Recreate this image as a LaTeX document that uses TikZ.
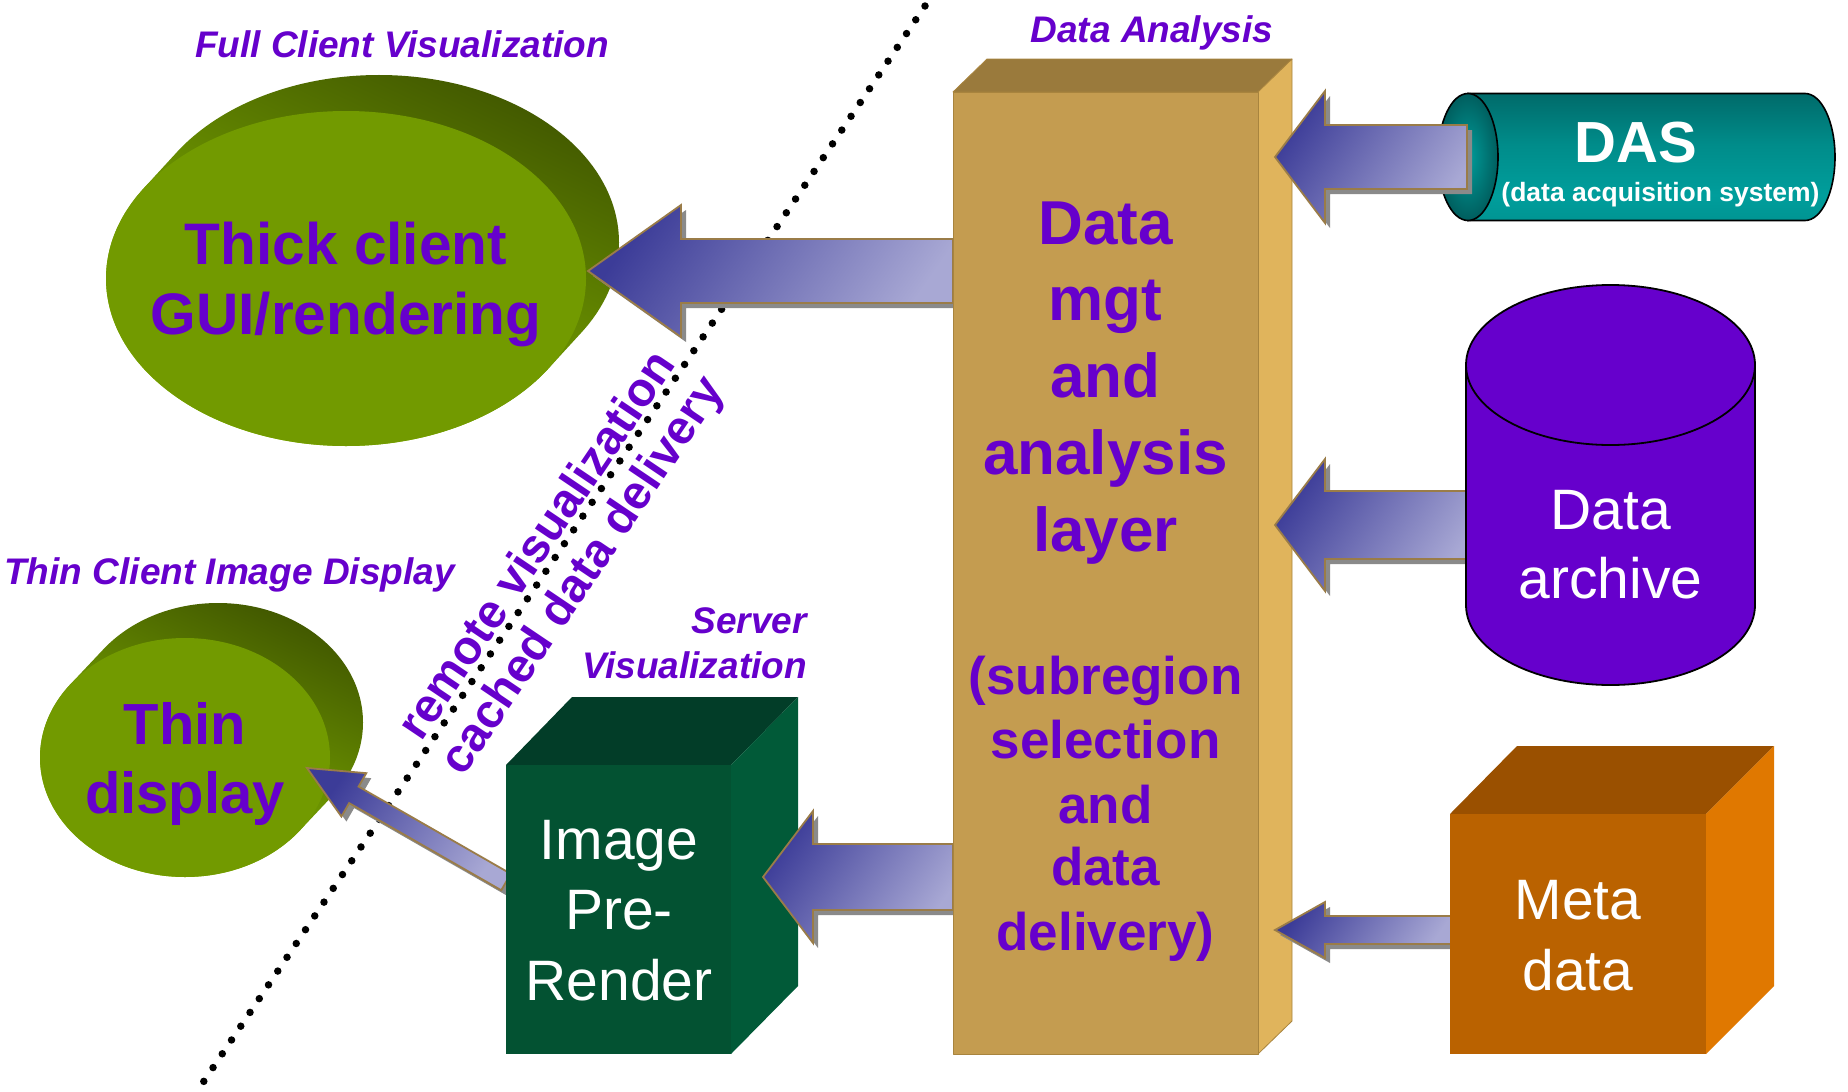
\documentclass[tikz,border=0pt]{standalone}
\usepackage{fontspec}
\setmainfont{Liberation Sans}
\usetikzlibrary{calc}

\definecolor{vio}{HTML}{6600CC}
\definecolor{olivefront}{HTML}{729A00}
\definecolor{olivedk}{HTML}{435A00}
\definecolor{olivemid}{HTML}{5A7800}
\definecolor{olivelt}{HTML}{8EC400}
\definecolor{tanfront}{HTML}{C49C50}
\definecolor{tantop}{HTML}{9A7A3C}
\definecolor{tanside}{HTML}{E0B45C}
\definecolor{tanedge}{HTML}{A8843E}
\definecolor{grfront}{HTML}{035232}
\definecolor{grtop}{HTML}{023D28}
\definecolor{grside}{HTML}{015A38}
\definecolor{orfront}{HTML}{BA6200}
\definecolor{ortop}{HTML}{9A5000}
\definecolor{orside}{HTML}{E07800}
\definecolor{tealA}{HTML}{004444}
\definecolor{tealB}{HTML}{008886}
\definecolor{tealC}{HTML}{009E9C}
\definecolor{tealD}{HTML}{008C8A}
\definecolor{tealE}{HTML}{005A5A}
\definecolor{tealF}{HTML}{004C4C}
\definecolor{tealcapin}{HTML}{009C9A}
\definecolor{tealcapout}{HTML}{005E5E}
\definecolor{arrdark}{HTML}{3C3C98}
\definecolor{arrlight}{HTML}{A8A8D4}
\definecolor{arredge}{HTML}{9A7C48}
\definecolor{arrshadow}{HTML}{8A8A8A}

% body of the horizontal DAS cylinder (0bp = bottom edge)
\pgfdeclareverticalshading{dasbody}{100bp}{%
  color(0bp)=(tealA); color(12bp)=(tealB); color(35bp)=(tealC);
  color(55bp)=(tealD); color(85bp)=(tealE); color(100bp)=(tealF)}

\tikzset{
  ptxt/.style={text=vio, font=\bfseries\fontsize{#1}{#1}\selectfont, inner sep=0pt, anchor=base},
  wtxt/.style={text=white, font=\fontsize{#1}{#1}\selectfont, inner sep=0pt, anchor=base},
  wbtxt/.style={text=white, font=\bfseries\fontsize{#1}{#1}\selectfont, inner sep=0pt, anchor=base},
  caption/.style={text=vio, font=\bfseries\itshape\fontsize{37}{37}\selectfont, inner sep=0pt, anchor=base},
  arrowbody/.style={draw=arredge, line width=1.8pt, line join=miter,
    top color=arrdark, bottom color=arrlight, shading angle=55},
  faceedge/.style={line width=0.8pt, line join=round},
}

% block arrow: tip, tail, head length, head half width, shaft half width
\newcommand\blockarrow[5]{%
  \coordinate (ba-h) at ($(#1)!#3!(#2)$);
  \coordinate (ba-h1) at ($(ba-h)!#4!90:(#2)$);
  \coordinate (ba-h2) at ($(ba-h)!#4!-90:(#2)$);
  \coordinate (ba-s1) at ($(ba-h)!#5!90:(#2)$);
  \coordinate (ba-s2) at ($(ba-h)!#5!-90:(#2)$);
  \coordinate (ba-t1) at ($(#2)!#5!-90:(ba-h)$);
  \coordinate (ba-t2) at ($(#2)!#5!90:(ba-h)$);
  \fill[arrshadow, transform canvas={shift={(5pt,-5pt)}}]
    (#1) -- (ba-h1) -- (ba-s1) -- (ba-t1) -- (ba-t2) -- (ba-s2) -- (ba-h2) -- cycle;
  \path[arrowbody]
    (#1) -- (ba-h1) -- (ba-s1) -- (ba-t1) -- (ba-t2) -- (ba-s2) -- (ba-h2) -- cycle;
}

\begin{document}
\begin{tikzpicture}[x=1pt, y=-1pt]
\useasboundingbox (0,0) rectangle (1848,1092);
\fill[white] (0,0) rectangle (1848,1092);

% dividing line between client and server side
\coordinate (divtop) at (925,6);
\coordinate (divbot) at (200,1087);
\draw[line width=7.5pt, line cap=round, dash pattern=on 0pt off 16.6pt] (divtop) -- (divbot);

% thick client disk
\shade[top color=olivedk, middle color=olivemid, bottom color=olivelt, shading angle=-25]
  \foreach \t in {0,0.05,...,1.01} {(346+33*\t, 278.5-36*\t) ellipse [x radius=240, y radius=167.5]};
\fill[olivefront] (346,278.5) ellipse [x radius=240, y radius=167.5];
\node[ptxt=58.6] (thick1) at (346,264) {Thick client};
\node[ptxt=58.6] (thick2) at (346,334) {GUI/rendering};

% thin client disk
\shade[top color=olivedk, middle color=olivemid, bottom color=olivelt, shading angle=-25]
  \foreach \t in {0,0.05,...,1.01} {(185+33*\t, 757.5-35*\t) ellipse [x radius=145, y radius=119.5]};
\fill[olivefront] (185,757.5) ellipse [x radius=145, y radius=119.5];
\node[ptxt=58] (thin1) at (185,744) {Thin};
\node[ptxt=58] (thin2) at (185,813) {display};

% text along the dividing line
\node[ptxt=47.5, rotate=56] (remote) at (549.4,553.6) {remote visualization};
\node[ptxt=47.5, rotate=56] (cached) at (594.2,583.7) {cached data delivery};

% captions
\node[caption] (capfull) at (402,57) {Full Client Visualization};
\node[caption] (capdata) at (1152,42) {Data Analysis};
\node[caption] (capthin) at (229.5,584) {Thin Client Image Display};
\node[caption, anchor=base east] (capserv1) at (807,633) {Server};
\node[caption, anchor=base east] (capserv2) at (807,678) {Visualization};

% arrow to the thick client
\coordinate (a-tip) at (588,271);
\coordinate (a-tail) at (953,271);
\blockarrow{a-tip}{a-tail}{93pt}{66pt}{32pt}

% arrow from the pre-render box to the thin display
\coordinate (f-tip) at (307,768);
\coordinate (f-tail) at (506,882);
\blockarrow{f-tip}{f-tail}{54pt}{25pt}{9.5pt}

% image pre-render box
\fill[grtop] (506,765) -- (572,697) -- (798,697) -- (731,765) -- cycle;
\fill[grside] (731,765) -- (798,697) -- (798,986) -- (731,1054) -- cycle;
\fill[grfront] (506,765) rectangle (731,1054);
\node[wtxt=57] (pre1) at (619,859) {Image};
\node[wtxt=57] (pre2) at (619,929) {Pre-};
\node[wtxt=57] (pre3) at (619,1000) {Render};

% arrow to the pre-render box
\coordinate (e-tip) at (763,877);
\coordinate (e-tail) at (953,877);
\blockarrow{e-tip}{e-tail}{50pt}{66pt}{33pt}

% data management column
\filldraw[fill=tantop, draw=tanedge, faceedge] (953,92) -- (987,59) -- (1292,59) -- (1258,92) -- cycle;
\filldraw[fill=tanside, draw=tanedge, faceedge] (1258,92) -- (1292,59) -- (1292,1021) -- (1258,1054) -- cycle;
\filldraw[fill=tanfront, draw=tanedge, faceedge] (953,92) rectangle (1258,1054);
\node[ptxt=62] (dm1) at (1105.5,244) {Data};
\node[ptxt=62] (dm2) at (1105.5,320) {mgt};
\node[ptxt=62] (dm3) at (1105.5,397) {and};
\node[ptxt=62] (dm4) at (1105.5,474) {analysis};
\node[ptxt=62] (dm5) at (1105.5,551) {layer};
\node[ptxt=53] (dm6) at (1105.5,694) {(subregion};
\node[ptxt=53] (dm7) at (1105.5,758) {selection};
\node[ptxt=53] (dm8) at (1105.5,823) {and};
\node[ptxt=53] (dm9) at (1105.5,885) {data};
\node[ptxt=53] (dm10) at (1105.5,950) {delivery)};

% arrow from the archive
\coordinate (c-tip) at (1275,525);
\coordinate (c-tail) at (1470,525);
\blockarrow{c-tip}{c-tail}{50pt}{66pt}{34pt}

% data archive cylinder
\filldraw[fill=vio, draw=black, line width=1.8pt]
  (1466,365) -- (1466,605) arc [start angle=180, end angle=0, x radius=144.5, y radius=80] -- (1755,365);
\filldraw[fill=vio, draw=black, line width=1.8pt] (1610.5,365) ellipse [x radius=144.5, y radius=80];
\node[wtxt=57] (arch1) at (1610.5,529) {Data};
\node[wtxt=57] (arch2) at (1610.5,598) {archive};

% arrow from the metadata box
\coordinate (d-tip) at (1275,930);
\coordinate (d-tail) at (1452,930);
\blockarrow{d-tip}{d-tail}{50pt}{28pt}{14pt}

% metadata box
\fill[ortop] (1450,814) -- (1517,746) -- (1774,746) -- (1706,814) -- cycle;
\fill[orside] (1706,814) -- (1774,746) -- (1774,986) -- (1706,1054) -- cycle;
\fill[orfront] (1450,814) rectangle (1706,1054);
\node[wtxt=57] (meta1) at (1578,919) {Meta};
\node[wtxt=57] (meta2) at (1578,990) {data};

% DAS cylinder
\shade[shading=dasbody, draw=black, line width=1.6pt]
  (1468,93.5) -- (1805,93.5) arc [start angle=-90, end angle=90, x radius=30, y radius=63.5] -- (1468,220.5) -- cycle;
\shade[inner color=tealcapin, outer color=tealcapout, draw=black, line width=1.6pt]
  (1468,157) ellipse [x radius=30, y radius=63.5];
\node[wbtxt=58] (das1) at (1636,162) {DAS};
\node[wbtxt=26.5] (das2) at (1660.5,201) {(data acquisition system)};

% arrow from DAS
\coordinate (b-tip) at (1275,157);
\coordinate (b-tail) at (1467,157);
\blockarrow{b-tip}{b-tail}{50pt}{66pt}{32pt}

\end{tikzpicture}
\end{document}
